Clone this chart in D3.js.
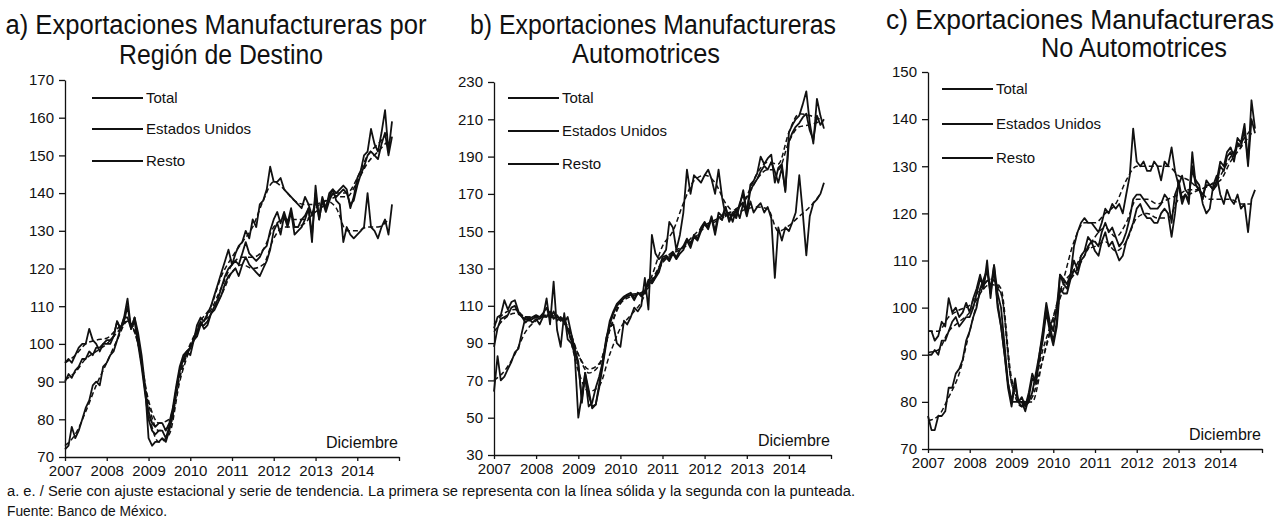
<!DOCTYPE html>
<html>
<head>
<meta charset="utf-8">
<script src="https://cdn.jsdelivr.net/npm/d3@7"></script>
<style>
body { margin: 0; background: #fff; }
text { font-family: "Liberation Sans", Arial, sans-serif; fill: #111; }
.axis path, .axis line { stroke: #111; stroke-width: 1.3; }
</style>
</head>
<body>
<script>
// monthly series, Jan 2007 .. Nov 2014 (solid = seasonally adjusted)
// trend series sampled every 3 months from Jan 2007 (dashed)
var yearLabels = ["2007", "2008", "2009", "2010", "2011", "2012", "2013", "2014"];
var legendLabels = ["Total", "Estados Unidos", "Resto"];
var ticksA = [70, 80, 90, 100, 110, 120, 130, 140, 150, 160, 170];
var ticksB = [30, 50, 70, 90, 110, 130, 150, 170, 190, 210, 230];
var ticksC = [70, 80, 90, 100, 110, 120, 130, 140, 150];

var totalA = [
  90, 92, 91, 93, 94, 96, 96, 98, 97, 99, 99, 100,
  100, 100, 102, 106, 104, 106, 110, 104, 106, 100, 94, 87,
  80, 77, 76, 77, 77, 75, 78, 82, 88, 93, 96, 97,
  99, 101, 102, 105, 105, 106, 108, 110, 112, 115, 118, 120,
  121, 122, 121, 124, 127, 124, 123, 122, 123, 125, 126, 130,
  133, 135, 132, 135, 132, 136, 131, 131, 133, 134, 136, 129,
  140, 133, 138, 135, 138, 140, 139, 140, 141, 140, 137, 138,
  142, 145, 147, 150, 151, 150, 149, 153, 156, 150, 155];
var usaA = [
  95, 96, 95, 97, 99, 100, 100, 104, 101, 100, 98, 100,
  101, 101, 102, 106, 104, 107, 112, 104, 107, 101, 95, 88,
  82, 79, 78, 79, 79, 77, 79, 83, 89, 94, 97, 98,
  99, 101, 103, 106, 104, 105, 108, 109, 111, 113, 116, 118,
  119, 120, 118, 121, 123, 121, 120, 119, 118, 120, 122, 125,
  130, 132, 129, 134, 131, 135, 129, 130, 131, 133, 136, 127,
  142, 133, 138, 136, 139, 141, 140, 141, 142, 141, 136, 139,
  144, 146, 150, 151, 157, 153, 151, 156, 162, 151, 159];
var restoA = [
  72, 73, 78, 75, 77, 80, 83, 85, 89, 90, 89, 94,
  95, 97, 98, 101, 104, 107, 107, 104, 107, 103, 97, 89,
  75, 73, 74, 74, 75, 74, 77, 81, 88, 93, 96, 98,
  97, 101, 105, 107, 106, 108, 110, 113, 116, 119, 122, 125,
  121, 124, 126, 127, 130, 128, 133, 131, 137, 138, 141, 147,
  143, 143, 144, 141, 140, 139, 138, 137, 136, 139, 137, 134,
  138, 134, 139, 136, 140, 141, 138, 137, 127, 131, 129, 128,
  129, 130, 131, 140, 131, 130, 128, 131, 133, 129, 137];
var totalATrend = [90.5, 92.5, 96, 98, 100, 103, 106, 100, 84, 77, 78, 91, 99.5, 105, 109, 115,
  121, 123, 123, 125, 131, 133, 133, 133, 135, 137, 139, 139, 143, 148, 151, 154];
var usaATrend = [95, 97, 100, 101, 101.5, 104, 106, 100, 85, 79, 80, 92, 100, 105, 108, 113,
  119, 121, 120, 121, 128, 131, 131, 132, 136, 138, 140, 140, 144, 150, 153, 156];
var restoATrend = [73, 76, 82, 89, 95, 101, 106, 101, 82, 74, 76, 90, 99, 106, 110, 118,
  123, 127, 131, 138, 143, 141, 138, 137, 137, 138, 136, 130, 130, 131, 131, 133];

var totalB = [
  88, 98, 103, 104, 105, 109, 110, 106, 104, 103, 102, 103,
  104, 103, 105, 104, 107, 103, 105, 102, 104, 97, 92, 86,
  78, 60, 74, 62, 56, 57, 66, 78, 90, 100, 106, 110,
  112, 114, 115, 116, 113, 117, 116, 118, 124, 123, 126, 130,
  136, 137, 135, 139, 136, 140, 142, 146, 143, 148, 146, 152,
  155, 152, 158, 150, 160, 158, 163, 156, 160, 158, 165, 170,
  160, 172, 175, 178, 182, 185, 183, 187, 182, 176, 184, 172,
  198, 203, 206, 208, 211, 213, 204, 199, 212, 207, 210];
var usaB = [
  98, 104, 105, 113, 108, 112, 113, 107, 104, 101, 103, 104,
  105, 104, 106, 109, 103, 107, 102, 104, 101, 104, 95, 87,
  80, 58, 74, 65, 55, 57, 68, 80, 92, 102, 107, 111,
  113, 115, 116, 117, 114, 117, 115, 117, 123, 122, 125, 128,
  135, 136, 134, 138, 135, 138, 140, 145, 141, 147, 145, 150,
  154, 151, 157, 148, 158, 156, 163, 155, 159, 157, 164, 172,
  160, 175, 177, 181, 190, 186, 189, 191, 176, 184, 186, 171,
  203, 207, 210, 212, 218, 225, 208, 197, 221, 212, 205];
var restoB = [
  64, 83, 70, 72, 76, 80, 85, 87, 96, 104, 103, 101,
  103, 100, 104, 114, 100, 123, 97, 88, 106, 92, 90, 84,
  50, 62, 72, 56, 58, 66, 72, 80, 93, 99, 100, 90,
  88, 102, 100, 104, 109, 107, 110, 125, 108, 148, 138, 135,
  137, 140, 155, 152, 140, 148, 160, 183, 170, 180, 178, 176,
  180, 183, 178, 170, 183, 168, 158, 160, 155, 162, 157, 165,
  158, 166, 160, 163, 165, 160, 163, 157, 125, 152, 145, 152,
  150, 155, 160, 180, 160, 137, 158, 165, 167, 170, 176];
var totalBTrend = [96, 103, 106, 104, 104, 104, 103, 98, 84, 76, 79, 97, 111, 115, 117, 124,
  134, 139, 142, 148, 153, 156, 159, 162, 168, 178, 183, 183, 198, 206, 207, 209];
var usaBTrend = [100, 106, 108, 104, 104, 105, 104, 99, 84, 74, 78, 97, 112, 116, 117, 122,
  133, 138, 141, 146, 152, 155, 158, 161, 169, 181, 187, 186, 203, 213, 212, 210];
var restoBTrend = [70, 75, 84, 96, 102, 105, 104, 97, 75, 64, 67, 84, 98, 105, 112, 126,
  142, 150, 165, 177, 180, 176, 165, 160, 162, 163, 162, 150, 153, 158, 163, 170];

var totalC = [
  90, 90, 91, 90, 93, 93, 95, 97, 98, 96, 97, 98,
  98, 100, 103, 106, 105, 108, 103, 108, 101, 96, 90, 83,
  79, 84, 80, 80, 78, 81, 85, 84, 89, 93, 99, 95,
  92, 96, 104, 103, 103, 106, 108, 107, 110, 111, 113, 114,
  114, 113, 116, 118, 116, 117, 115, 113, 114, 116, 119, 123,
  124, 124, 123, 122, 121, 121, 121, 122, 124, 123, 118, 124,
  126, 122, 124, 123, 130, 126, 125, 124, 126, 126, 125, 126,
  130, 129, 132, 133, 131, 135, 134, 138, 130, 140, 137];
var usaC = [
  95, 95, 93, 94, 97, 96, 102, 99, 100, 98, 99, 101,
  99, 102, 104, 107, 104, 110, 102, 109, 100, 96, 90, 84,
  80, 85, 80, 81, 79, 82, 86, 84, 90, 94, 100, 96,
  93, 97, 107, 105, 104, 107, 110, 108, 111, 112, 115, 114,
  112, 111, 114, 116, 113, 114, 112, 110, 111, 114, 116, 118,
  121, 122, 120, 119, 119, 118, 118, 120, 121, 120, 115, 120,
  127, 123, 124, 122, 133, 126, 125, 123, 127, 126, 125, 127,
  131, 130, 133, 134, 132, 136, 135, 139, 131, 144, 138];
var restoC = [
  77, 74, 74, 77, 77, 78, 83, 83, 86, 87, 89, 93,
  95, 98, 100, 104, 106, 108, 104, 109, 103, 100, 92, 84,
  80, 80, 80, 79, 80, 80, 82, 86, 90, 95, 101, 97,
  95, 100, 107, 106, 105, 107, 113, 116, 118, 119, 118, 118,
  117, 116, 118, 121, 120, 122, 121, 122, 120, 124, 128, 138,
  131, 130, 131, 129, 129, 131, 130, 127, 131, 130, 134, 129,
  126, 128, 125, 124, 129, 127, 126, 122, 120, 121, 126, 128,
  124, 122, 125, 123, 122, 124, 121, 122, 116, 123, 125];
var totalCTrend = [90.5, 91, 95, 97, 99, 103, 105, 103, 84, 79, 81, 89, 97, 104, 107, 111,
  115, 117, 115, 118, 123, 123, 122, 123, 124, 125, 125, 126, 127, 131, 134, 137];
var usaCTrend = [95, 95, 98, 99.5, 100.5, 104, 106, 104, 85, 80, 82, 91, 98, 105, 108, 112,
  113, 114, 112, 114, 119, 120, 119, 119, 123, 124, 125, 126, 128, 132, 135, 138];
var restoCTrend = [76, 77, 81, 86, 95, 103, 106, 103, 84, 80, 80, 89, 98, 106, 114, 118,
  118, 120, 122, 127, 130, 130, 130, 130, 128, 127, 125, 123, 123, 123, 122, 122];

var w = 1285;
var h = 527;

var svg = d3.select("body")
  .append("svg")
  .attr("width", w)
  .attr("height", h);

var panels = [
  {
    title: ["a) Exportaciones Manufactureras por", "Región de Destino"],
    titleX: [216, 221], titleY: [34, 64], titleW: [421, 204],
    left: 65, right: 399, top: 80, bottom: 457,
    domain: [70, 170], ticks: ticksA,
    solid: [totalA, usaA, restoA],
    trend: [totalATrend, usaATrend, restoATrend],
    legendX: 92, legendY: [98, 129, 161]
  },
  {
    title: ["b) Exportaciones Manufactureras", "Automotrices"],
    titleX: [653, 646], titleY: [34, 63], titleW: [366, 148],
    left: 494, right: 831, top: 82, bottom: 455,
    domain: [30, 230], ticks: ticksB,
    solid: [totalB, usaB, restoB],
    trend: [totalBTrend, usaBTrend, restoBTrend],
    legendX: 508, legendY: [98, 131, 164]
  },
  {
    title: ["c) Exportaciones Manufactureras", "No Automotrices"],
    titleX: [1080, 1134], titleY: [29, 57], titleW: [388, 186],
    left: 928, right: 1262, top: 72, bottom: 449,
    domain: [70, 150], ticks: ticksC,
    solid: [totalC, usaC, restoC],
    trend: [totalCTrend, usaCTrend, restoCTrend],
    legendX: 942, legendY: [89, 124, 158]
  }
];

var monthDate = function(i) {
  return new Date(2007, i, 1);
};

var yearDates = yearLabels.map(function(d) {
  return new Date(+d, 0, 1);
});
yearDates.push(new Date(2015, 0, 1));

var draw_panel = function(p) {
  var g = svg.append("g");

  var x = d3.scaleTime()
    .domain([new Date(2007, 0, 1), new Date(2015, 0, 1)])
    .range([p.left, p.right]);
  var y = d3.scaleLinear()
    .domain(p.domain)
    .range([p.bottom, p.top]);

  // titles
  p.title.forEach(function(t, i) {
    g.append("text")
      .attr("x", p.titleX[i])
      .attr("y", p.titleY[i])
      .attr("text-anchor", "middle")
      .attr("textLength", p.titleW[i])
      .attr("lengthAdjust", "spacingAndGlyphs")
      .style("font-size", "27px")
      .text(t);
  });

  var yAxis = d3.axisLeft(y)
    .tickValues(p.ticks)
    .tickSize(6)
    .tickSizeOuter(0)
    .tickPadding(5);
  g.append("g")
    .attr("class", "axis")
    .attr("transform", "translate(" + p.left + ",0)")
    .call(yAxis)
    .selectAll("text")
    .style("font-size", "15px")
    .style("font-family", "'Liberation Sans', Arial, sans-serif");

  var xAxis = d3.axisBottom(x)
    .tickValues(yearDates)
    .tickSize(4)
    .tickSizeOuter(0)
    .tickPadding(4)
    .tickFormat(function(d) {
      return d.getFullYear() < 2015 ? d.getFullYear() : "";
    });
  g.append("g")
    .attr("class", "axis")
    .attr("transform", "translate(0," + p.bottom + ")")
    .call(xAxis)
    .selectAll("text")
    .style("font-size", "15px")
    .style("font-family", "'Liberation Sans', Arial, sans-serif");

  var solidLine = d3.line()
    .x(function(d, i) { return x(monthDate(i)); })
    .y(function(d) { return y(d); });
  var trendLine = d3.line()
    .x(function(d, i) { return x(monthDate(i * 3)); })
    .y(function(d) { return y(d); })
    .curve(d3.curveMonotoneX);

  p.trend.forEach(function(s) {
    g.append("path")
      .datum(s)
      .attr("d", trendLine)
      .attr("fill", "none")
      .attr("stroke", "#111")
      .attr("stroke-width", 1.5)
      .attr("stroke-dasharray", "5,3");
  });
  p.solid.forEach(function(s) {
    g.append("path")
      .datum(s)
      .attr("d", solidLine)
      .attr("fill", "none")
      .attr("stroke", "#111")
      .attr("stroke-width", 1.8)
      .attr("stroke-linejoin", "round");
  });

  // legend
  legendLabels.forEach(function(l, i) {
    g.append("line")
      .attr("x1", p.legendX)
      .attr("x2", p.legendX + 51)
      .attr("y1", p.legendY[i])
      .attr("y2", p.legendY[i])
      .attr("stroke", "#111")
      .attr("stroke-width", 1.8);
    g.append("text")
      .attr("x", p.legendX + 54)
      .attr("y", p.legendY[i] + 5)
      .style("font-size", "15px")
      .text(l);
  });

  g.append("text")
    .attr("x", p.right - 1)
    .attr("y", p.bottom - 9)
    .attr("text-anchor", "end")
    .style("font-size", "16px")
    .text("Diciembre");
};

panels.forEach(draw_panel);

svg.append("text")
  .attr("x", 7)
  .attr("y", 496)
  .attr("textLength", 848)
  .attr("lengthAdjust", "spacingAndGlyphs")
  .style("font-size", "14px")
  .text("a. e. / Serie con ajuste estacional y serie de tendencia. La primera se representa con la línea sólida y la segunda con la punteada.");
svg.append("text")
  .attr("x", 7)
  .attr("y", 516)
  .attr("textLength", 160)
  .attr("lengthAdjust", "spacingAndGlyphs")
  .style("font-size", "14px")
  .text("Fuente: Banco de México.");
</script>
</body>
</html>
